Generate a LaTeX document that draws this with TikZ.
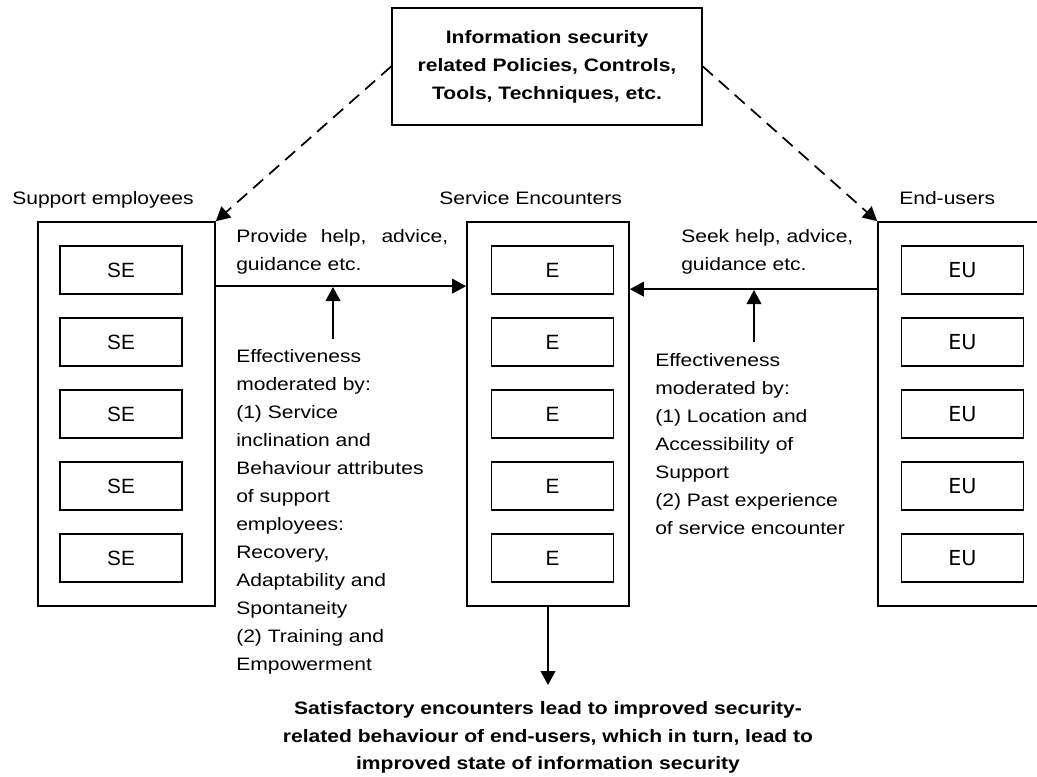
\documentclass[tikz,border=0pt]{standalone}
\usepackage{fontspec}
\setmainfont{Liberation Sans}[FakeStretch=1.17]
\newfontfamily\boxfont{Liberation Sans}
\newfontfamily\eufont{DejaVu Sans}
\usetikzlibrary{arrows.meta,fit,calc}

\tikzset{
  body/.style={font={\fontsize{13.5pt}{21pt}\selectfont}, inner sep=0pt},
  boldtext/.style={font={\fontsize{13.5pt}{20.5pt}\selectfont\bfseries}, inner sep=0pt},
  ln/.style={line width=1.3pt},
  group/.style={draw, ln, inner sep=0pt},
  member/.style={draw, ln, minimum width=91.5pt, minimum height=36pt, inner sep=0pt,
    font={\fontsize{15.5pt}{18pt}\boxfont}},
  eumember/.style={member, font={\fontsize{15.5pt}{18pt}\eufont}},
  conn/.style={ln, -{Triangle[length=10.5pt,width=11pt]}},
  dashconn/.style={ln, dash pattern=on 10pt off 6pt, -{Triangle[length=10.5pt,width=11pt]}},
}

\begin{document}
\begin{tikzpicture}[x=0.75pt, y=-0.75pt]
\useasboundingbox (0,0) rectangle (1037,776);

% policies box at the top
\node[draw, ln, minimum width=232.5pt, minimum height=87.75pt, align=center,
      boldtext, font={\fontsize{13.5pt}{21pt}\selectfont\bfseries}]
  (pol) at (547,66.5)
  {Information security\\related Policies, Controls,\\Tools, Techniques, etc.};

% the three columns
\node[group, fit={(38,222) (215,606)}] (sg) {};
\node[group, fit={(467,222) (629,606)}] (ce) {};
\begin{scope}
  \clip (0,0) rectangle (1037,776);
  \node[group, fit={(878,222) (1060,606)}] (eu) {};
\end{scope}

\node[body, anchor=base west] (lsg) at (12,204) {Support employees};
\node[body, anchor=base west] (lce) at (439,204) {Service Encounters};
\node[body, anchor=base west] (leu) at (899,204) {End-users};

% members of each column
\foreach \i/\y in {1/270, 2/342, 3/414, 4/486, 5/558} {
  \node[member] (se\i) at (121,\y) {SE};
  \node[member] (e\i) at (552.5,\y) {E};
  \node[eumember] (u\i) at (962.5,\y) {EU};
}

% flows between the columns
\draw[conn] ($(sg.north east)+(0,65)$) coordinate (sgout) -- (ce.west |- sgout);
\draw[conn] ($(eu.north west)+(0,68)$) coordinate (euout) -- (ce.east |- euout);

\coordinate (hl) at (333,287);
\coordinate (bl) at (333,339);
\draw[conn] (bl) -- (hl);
\coordinate (hr) at (754,290);
\coordinate (br) at (754,342);
\draw[conn] (br) -- (hr);

\node[body, anchor=north west, text width=159pt, align=justify] (prov) at (236,229.5)
  {Provide help, advice, guidance etc.};
\node[body, anchor=north west, align=left] (seek) at (681,229.5)
  {Seek help, advice,\\guidance etc.};

\node[body, anchor=north west, align=left] (modl) at (236,349.5)
  {Effectiveness\\moderated by:\\(1) Service\\inclination and\\Behaviour attributes\\of support\\employees:\\Recovery,\\Adaptability and\\Spontaneity\\(2) Training and\\Empowerment};
\node[body, anchor=north west, align=left] (modr) at (655,353.5)
  {Effectiveness\\moderated by:\\(1) Location and\\Accessibility of\\Support\\(2) Past experience\\of service encounter};

% policies reach both sides
\draw[dashconn] (pol.west) -- (sg.north east);
\draw[dashconn] (pol.east) -- (eu.north west);

% outcome
\coordinate (outtip) at (548,685);
\draw[conn] (ce.south) -- (outtip);
\node[boldtext, anchor=north, align=center] (out) at (548,701.5)
  {Satisfactory encounters lead to improved security-\\related behaviour of end-users, which in turn, lead to\\improved state of information security};
\end{tikzpicture}
\end{document}
